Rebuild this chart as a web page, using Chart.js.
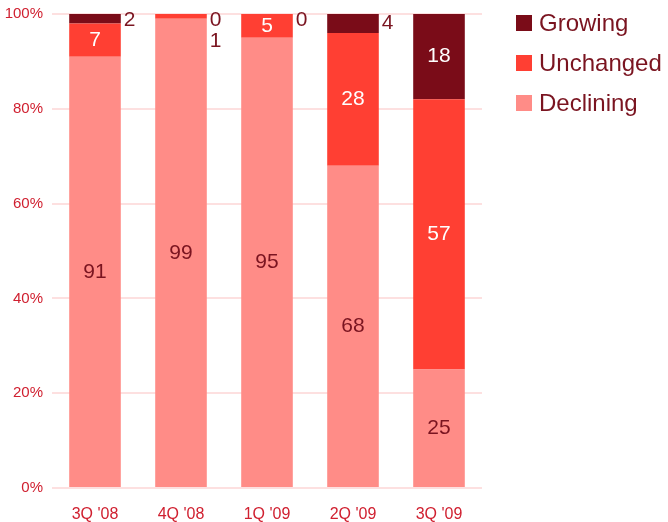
<!DOCTYPE html>
<html>
<head>
<meta charset="utf-8">
<script src="https://cdn.jsdelivr.net/npm/chart.js@4/dist/chart.umd.min.js"></script>
<style>
  html, body { margin: 0; padding: 0; background: #fff; }
  #wrap { position: relative; width: 668px; height: 522px; }
  #legend { position: absolute; left: 516px; top: 3px; font-family: "Liberation Sans", Arial, sans-serif; font-size: 24px; color: #7A1420; }
  .item { display: flex; align-items: center; height: 40px; }
  .sw { width: 16px; height: 16px; margin-right: 7px; flex: none; }
</style>
</head>
<body>
<div id="wrap">
  <canvas id="c" width="668" height="522"></canvas>
  <div id="legend"></div>
</div>
<script>
// Share of respondents per quarter (percent)
const quarters  = ["3Q '08", "4Q '08", "1Q '09", "2Q '09", "3Q '09"];
const declining = [91, 99, 95, 68, 25];
const unchanged = [7, 1, 5, 28, 57];
const growing   = [2, 0, 0, 4, 18];
const yTicks    = [0, 20, 40, 60, 80, 100];

const FONT = '"Liberation Sans", Arial, sans-serif';
const DARK = '#7A1420';

const series = [
  { label: 'Declining', data: declining, backgroundColor: '#FF8C87', labelColor: DARK },
  { label: 'Unchanged', data: unchanged, backgroundColor: '#FF3F33', labelColor: '#FFFFFF' },
  { label: 'Growing',   data: growing,   backgroundColor: '#7A0C18', labelColor: '#FFFFFF' }
];

// Value labels: centred inside segments, small values set beside the bar
const valueLabels = {
  id: 'valueLabels',
  afterDatasetsDraw(chart) {
    const ctx = chart.ctx;
    ctx.save();
    ctx.font = '21px ' + FONT;
    ctx.textBaseline = 'middle';
    const top = chart.chartArea.top;
    const nextY = {};
    for (let d = chart.data.datasets.length - 1; d >= 0; d--) {
      const ds = chart.data.datasets[d];
      chart.getDatasetMeta(d).data.forEach((bar, i) => {
        const v = ds.data[i];
        const p = bar.getProps(['x', 'y', 'base', 'width'], true);
        const mid = (p.y + p.base) / 2;
        if (v >= 5) {
          ctx.textAlign = 'center';
          ctx.fillStyle = ds.labelColor;
          ctx.fillText(String(v), p.x, mid);
        } else {
          let ly = Math.max(mid, top + 6);
          if (nextY[i] !== undefined) ly = Math.max(ly, nextY[i]);
          nextY[i] = ly + 21;
          ctx.textAlign = 'left';
          ctx.fillStyle = DARK;
          ctx.fillText(String(v), p.x + p.width / 2 + 3, ly);
        }
      });
    }
    ctx.restore();
  }
};

new Chart(document.getElementById('c'), {
  type: 'bar',
  data: {
    labels: quarters,
    datasets: series.map(s => ({
      label: s.label,
      data: s.data,
      backgroundColor: s.backgroundColor,
      labelColor: s.labelColor,
      borderWidth: 0,
      barPercentage: 0.6,
      categoryPercentage: 1
    }))
  },
  options: {
    responsive: false,
    animation: false,
    layout: { padding: { left: 5, right: 186, top: 14, bottom: 0 } },
    plugins: { legend: { display: false }, tooltip: { enabled: false } },
    scales: {
      x: {
        stacked: true,
        afterFit: s => { s.height = 34; },
        grid: { display: false, drawTicks: false },
        border: { display: false },
        ticks: { color: '#D02030', font: { family: FONT, size: 16 }, padding: 17, maxRotation: 0 }
      },
      y: {
        stacked: true,
        min: 0,
        max: 100,
        afterFit: s => { s.width = 47; s.paddingTop = 0; s.paddingBottom = 0; },
        afterBuildTicks: axis => { axis.ticks = yTicks.map(v => ({ value: v })); },
        grid: { color: '#FDE0E0', lineWidth: 2, drawTicks: false },
        border: { display: false },
        ticks: { color: '#D02030', font: { family: FONT, size: 15 }, padding: 9, callback: v => v + '%' }
      }
    }
  },
  plugins: [valueLabels]
});

// Legend, top item is the top of the stack
const legend = document.getElementById('legend');
series.slice().reverse().forEach(s => {
  const row = document.createElement('div');
  row.className = 'item';
  const sw = document.createElement('span');
  sw.className = 'sw';
  sw.style.background = s.backgroundColor;
  const tx = document.createElement('span');
  tx.textContent = s.label;
  row.appendChild(sw);
  row.appendChild(tx);
  legend.appendChild(row);
});
</script>
</body>
</html>
